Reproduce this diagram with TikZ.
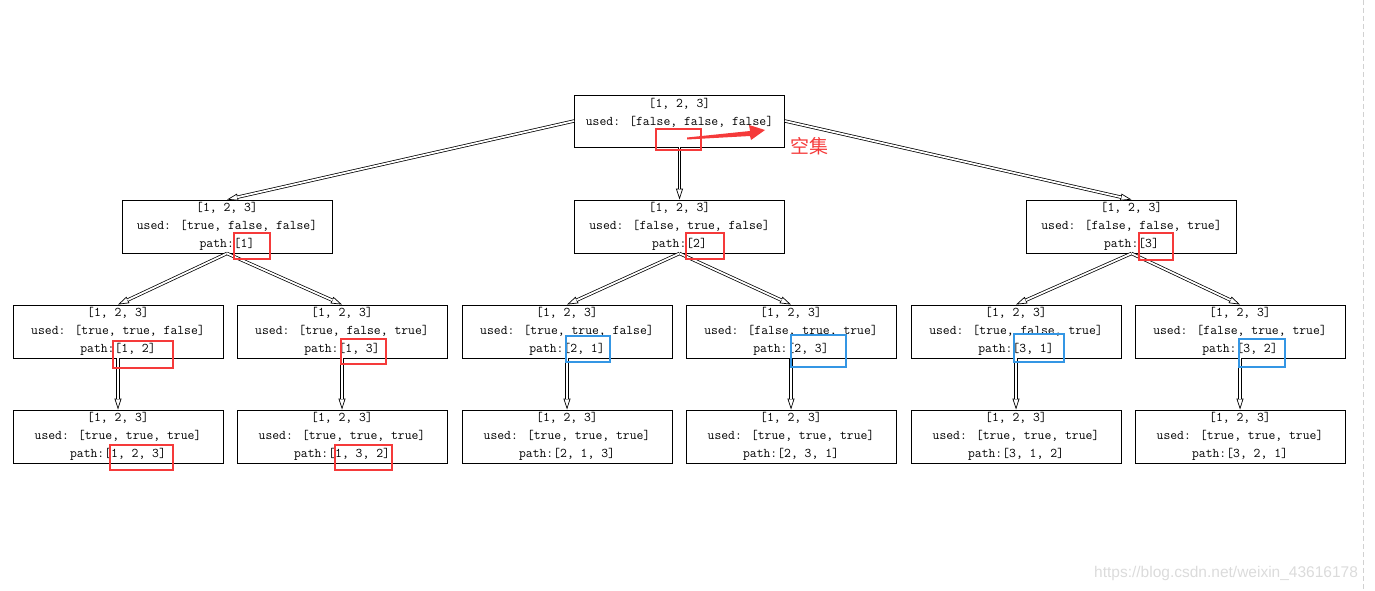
\documentclass[tikz,border=0pt]{standalone}
\usepackage{fontspec}
\usetikzlibrary{arrows.meta}
\newfontfamily\cjkfont{Noto Sans CJK SC}
\newfontfamily\wmfont{Liberation Sans}
\definecolor{hred}{RGB}{245,58,58}
\definecolor{hblue}{RGB}{52,150,228}
\tikzset{
  box/.style={draw, line width=0.9pt, minimum width=210pt, minimum height=53pt, inner sep=0pt, align=center,
    font=\ttfamily\fontsize{13.3}{18}\selectfont},
  tipline/.style={line width=0.7pt, -{Triangle[open, fill=white, length=11pt, width=7pt]}},
  dline/.style={double, double distance=1.8pt, line width=0.75pt, shorten >=10.5pt},
  hlred/.style={draw=hred, line width=2.6pt},
  hlblue/.style={draw=hblue, line width=2.6pt},
}
\newcommand\darr[2]{\draw[tipline] (#1) -- (#2); \draw[dline] (#1) -- (#2);}
\begin{document}
\begin{tikzpicture}[x=1pt,y=-1pt]
\useasboundingbox (0,0) rectangle (1375,591);
% nodes
\node[box, minimum height=52pt] (r) at (679.5,121) {[1, 2, 3]\\used: [false, false, false]\\\mbox{}};
\node[box] (a) at (227,226.5) {[1, 2, 3]\\used: [true, false, false]\\path:[1]};
\node[box] (b) at (679.5,226.5) {[1, 2, 3]\\used: [false, true, false]\\path:[2]};
\node[box] (c) at (1131.5,226.5) {[1, 2, 3]\\used: [false, false, true]\\path:[3]};
\node[box] (a1) at (118,331.5) {[1, 2, 3]\\used: [true, true, false]\\path:[1, 2]};
\node[box] (a2) at (342,331.5) {[1, 2, 3]\\used: [true, false, true]\\path:[1, 3]};
\node[box] (b1) at (567,331.5) {[1, 2, 3]\\used: [true, true, false]\\path:[2, 1]};
\node[box] (b2) at (791,331.5) {[1, 2, 3]\\used: [false, true, true]\\path:[2, 3]};
\node[box] (c1) at (1016,331.5) {[1, 2, 3]\\used: [true, false, true]\\path:[3, 1]};
\node[box] (c2) at (1240,331.5) {[1, 2, 3]\\used: [false, true, true]\\path:[3, 2]};
\node[box] (a1x) at (118,436.5) {[1, 2, 3]\\used: [true, true, true]\\path:[1, 2, 3]};
\node[box] (a2x) at (342,436.5) {[1, 2, 3]\\used: [true, true, true]\\path:[1, 3, 2]};
\node[box] (b1x) at (567,436.5) {[1, 2, 3]\\used: [true, true, true]\\path:[2, 1, 3]};
\node[box] (b2x) at (791,436.5) {[1, 2, 3]\\used: [true, true, true]\\path:[2, 3, 1]};
\node[box] (c1x) at (1016,436.5) {[1, 2, 3]\\used: [true, true, true]\\path:[3, 1, 2]};
\node[box] (c2x) at (1240,436.5) {[1, 2, 3]\\used: [true, true, true]\\path:[3, 2, 1]};
% connectors
\darr{r.west}{a.north}
\darr{r.south}{b.north}
\darr{r.east}{c.north}
\darr{a.south}{a1.north}
\darr{a.south}{a2.north}
\darr{b.south}{b1.north}
\darr{b.south}{b2.north}
\darr{c.south}{c1.north}
\darr{c.south}{c2.north}
\darr{a1.south}{a1x.north}
\darr{a2.south}{a2x.north}
\darr{b1.south}{b1x.north}
\darr{b2.south}{b2x.north}
\darr{c1.south}{c1x.north}
\darr{c2.south}{c2x.north}
% highlights
\draw[hlred] (656,129) rectangle (701,150);
\draw[hlred] (234,233) rectangle (270,259);
\draw[hlred] (686,233) rectangle (724,259);
\draw[hlred] (1139,233) rectangle (1173,260);
\draw[hlred] (113,341) rectangle (173,368);
\draw[hlred] (341,339) rectangle (386,364);
\draw[hlblue] (566,336) rectangle (610,362);
\draw[hlblue] (791,335) rectangle (846,367);
\draw[hlblue] (1014,334) rectangle (1064,362);
\draw[hlblue] (1239,339) rectangle (1285,367);
\draw[hlred] (110,445) rectangle (173,470);
\draw[hlred] (335,445) rectangle (392,470);
% red annotation arrow
\fill[hred] (687,137.5) -- (750,131) -- (749,125) -- (765,130) -- (751,140) -- (750,136) -- (687,139.5) -- cycle;
\node[text=hred, font=\cjkfont\fontsize{19}{20}\selectfont] (empty) at (809,146) {空集};
% watermark and side line
\node[anchor=west, text=black!14, font=\wmfont\fontsize{15.5}{17}\selectfont, inner sep=0pt] (wm) at (1094,573) {https://blog.csdn.net/weixin\_43616178};
\draw[black!18, line width=1pt, dash pattern=on 5pt off 3pt] (1363,0) -- (1363,591);
\end{tikzpicture}
\end{document}
